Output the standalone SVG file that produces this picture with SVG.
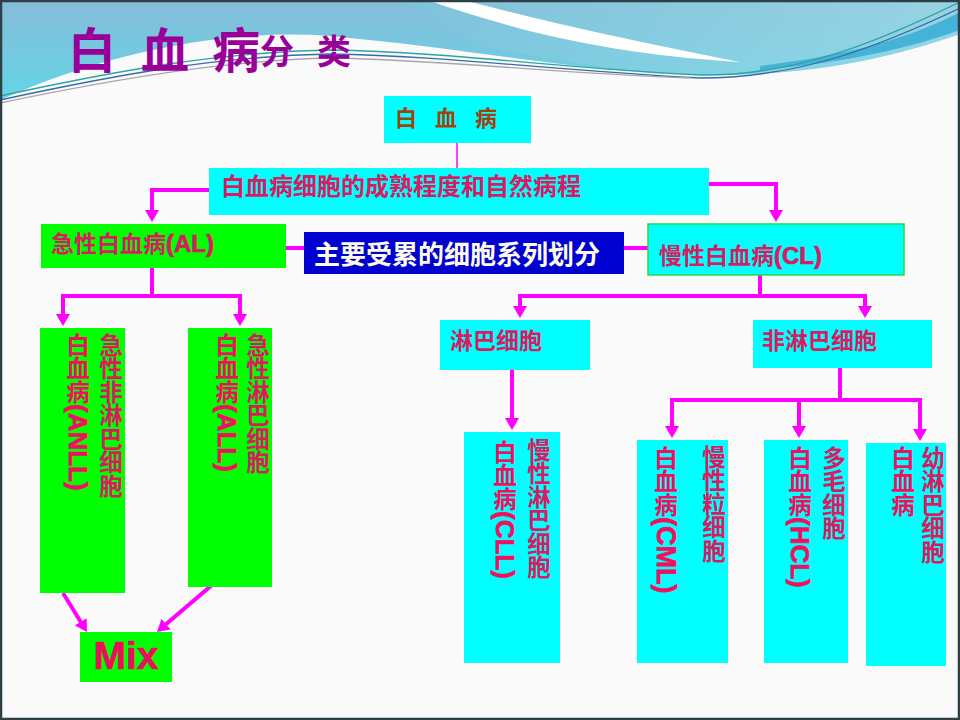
<svg xmlns="http://www.w3.org/2000/svg" width="960" height="720" viewBox="0 0 960 720">
<defs>
<linearGradient id="sky" x1="0" y1="0" x2="0" y2="1">
<stop offset="0" stop-color="#86bcd9"/>
<stop offset="1" stop-color="#63d5e6"/>
</linearGradient>
<linearGradient id="sky2" x1="0" y1="0" x2="1" y2="0">
<stop offset="0" stop-color="#7cc4dc"/>
<stop offset="1" stop-color="#a9e2ea"/>
</linearGradient>
<marker id="ah" markerWidth="14" markerHeight="14" refX="4" refY="7" orient="auto" markerUnits="userSpaceOnUse">
<path d="M0,0 L12,7 L0,14 Z" fill="#ff00ff"/>
</marker>
<style>
.cjk{font-family:"Noto Sans CJK SC","Liberation Sans",sans-serif;font-weight:bold;}
.lat{font-family:"Liberation Sans",Arial,sans-serif;font-weight:bold;stroke-width:0.7;}
.t{fill:#d81c62;font-size:23px;}
.t .lat{stroke:#d81c62;}
.v{writing-mode:vertical-rl;font-size:23.5px;fill:#d81c62;}
.vl{fill:#f0105e;}
.vl .lat{stroke:#f0105e;}
.cy{fill:#00ffff;}
.gr{fill:#00ff00;}
.conn line,.conn polyline{stroke:#ff00ff;stroke-width:4;fill:none;}
</style>
</defs>
<!-- background -->
<rect x="0" y="0" width="960" height="720" fill="#fafafa"/>
<path d="M0,0 H960 V34 C880,62 800,76 700,75 C590,73 480,50 330,36 C220,28 100,55 0,100 Z" fill="url(#sky)"/>
<path d="M400,0 H960 V34 C880,62 800,76 700,75 C620,72 560,62 480,45 Z" fill="url(#sky2)" opacity="0.55"/>
<path d="M463,0 C540,20 610,36 740,62 C610,54 520,32 427,0 Z" fill="#ffffff"/>
<path d="M760,66 C850,55 910,38 960,12 L960,30 C910,48 850,62 760,70 Z" fill="#45b3d8"/>
<g fill="none" stroke-width="1.3">
<path d="M0,96 C120,70 220,52 330,50 C450,52 560,68 700,75 C800,76 880,40 960,2" stroke="#2aa6a0"/>
<path d="M0,100 C120,74 220,56 330,54 C450,56 560,71 700,78 C800,78 880,46 960,8" stroke="#3a6aa8"/>
<path d="M0,103 C120,78 230,60 330,58 C450,60 560,74 690,78" stroke="#a8a8a8"/>
</g>
<rect x="1" y="1" width="958" height="718" fill="none" stroke="#2f3f46" stroke-width="2.5"/>

<!-- title -->
<g id="title" fill="#990099" text-anchor="middle" style="font-family:'Noto Sans CJK SC',sans-serif;font-weight:bold">
<text x="92" y="68" font-size="48">白</text>
<text x="165" y="68" font-size="48">血</text>
<text x="236" y="68" font-size="48">病</text>
<text x="277" y="64" font-size="34">分</text>
<text x="334" y="64" font-size="34">类</text>
</g>

<!-- connectors -->
<g id="connectors" class="conn">
<line x1="457" y1="143" x2="457" y2="168" style="stroke-width:1.5"/>
<polyline points="209,190 152,190 152,214" marker-end="url(#ah)"/>
<polyline points="709,184 776,184 776,214" marker-end="url(#ah)"/>
<line x1="286" y1="248" x2="304" y2="248"/>
<line x1="624" y1="248" x2="648" y2="248"/>
<line x1="152" y1="268" x2="152" y2="296"/>
<line x1="61" y1="296" x2="242" y2="296"/>
<line x1="63" y1="296" x2="63" y2="318" marker-end="url(#ah)"/>
<line x1="240" y1="296" x2="240" y2="318" marker-end="url(#ah)"/>
<line x1="760" y1="275" x2="760" y2="296"/>
<line x1="518" y1="296" x2="867" y2="296"/>
<line x1="520" y1="296" x2="520" y2="310" marker-end="url(#ah)"/>
<line x1="865" y1="296" x2="865" y2="310" marker-end="url(#ah)"/>
<line x1="512" y1="370" x2="512" y2="422" marker-end="url(#ah)"/>
<line x1="840" y1="368" x2="840" y2="400"/>
<line x1="670" y1="400" x2="922" y2="400"/>
<line x1="672" y1="400" x2="672" y2="430" marker-end="url(#ah)"/>
<line x1="799" y1="400" x2="799" y2="430" marker-end="url(#ah)"/>
<line x1="920" y1="400" x2="920" y2="433" marker-end="url(#ah)"/>
<line x1="63" y1="593" x2="82.8" y2="625.2" marker-end="url(#ah)"/>
<line x1="212" y1="585" x2="163" y2="626.8" marker-end="url(#ah)"/>
</g>

<!-- nodes -->
<g id="root">
<rect x="384" y="96" width="147" height="47" class="cy"/>
<g class="cjk" fill="#a0420c" font-size="22" text-anchor="middle">
<text x="406" y="126">白</text><text x="446" y="126">血</text><text x="486" y="126">病</text>
</g>
</g>
<g id="criteria">
<rect x="209" y="168" width="500" height="47" class="cy"/>
<text x="221" y="195" class="cjk t" style="font-size:24px">白血病细胞的成熟程度和自然病程</text>
</g>
<g id="al">
<rect x="41" y="224" width="245" height="44" class="gr"/>
<text x="51" y="252" class="cjk t">急性白血病<tspan class="lat" style="font-size:24px">(AL)</tspan></text>
</g>
<g id="lineage">
<rect x="304" y="232" width="320" height="42" fill="#0000d0"/>
<text x="314" y="264" class="cjk" font-size="26" fill="#fbfbe8">主要受累的细胞系列划分</text>
</g>
<g id="cl">
<rect x="648" y="224" width="256" height="51" class="cy" stroke="#22dd44" stroke-width="1.5"/>
<text x="659" y="264" class="cjk t">慢性白血病<tspan class="lat" style="font-size:24px">(CL)</tspan></text>
</g>
<g id="anll">
<rect x="40" y="328" width="85" height="265" class="gr"/>
<text x="111" y="333" class="cjk v">急性非淋巴细胞</text>
<text x="78" y="333" class="cjk v vl">白血病<tspan class="lat" style="font-size:26px">(ANLL)</tspan></text>
</g>
<g id="all">
<rect x="188" y="328" width="84" height="259" class="gr"/>
<text x="258" y="333" class="cjk v">急性淋巴细胞</text>
<text x="227" y="333" class="cjk v vl">白血病<tspan class="lat" style="font-size:26px">(ALL)</tspan></text>
</g>
<g id="lymph">
<rect x="440" y="320" width="150" height="50" class="cy"/>
<text x="450" y="349" class="cjk t">淋巴细胞</text>
</g>
<g id="nonlymph">
<rect x="753" y="320" width="179" height="48" class="cy"/>
<text x="762" y="349" class="cjk t">非淋巴细胞</text>
</g>
<g id="cll">
<rect x="464" y="432" width="96" height="231" class="cy"/>
<text x="539" y="438" class="cjk v">慢性淋巴细胞</text>
<text x="505" y="440" class="cjk v vl">白血病<tspan class="lat" style="font-size:26px">(CLL)</tspan></text>
</g>
<g id="cml">
<rect x="637" y="440" width="91" height="223" class="cy"/>
<text x="714" y="445" class="cjk v">慢性粒细胞</text>
<text x="666" y="446" class="cjk v vl">白血病<tspan class="lat" style="font-size:27px">(CML)</tspan></text>
</g>
<g id="hcl">
<rect x="764" y="440" width="84" height="223" class="cy"/>
<text x="834" y="446" class="cjk v">多毛细胞</text>
<text x="800" y="446" class="cjk v vl">白血病<tspan class="lat" style="font-size:26px">(HCL)</tspan></text>
</g>
<g id="pll">
<rect x="866" y="443" width="80" height="223" class="cy"/>
<text x="933" y="446" class="cjk v">幼淋巴细胞</text>
<text x="903" y="446" class="cjk v vl">白血病</text>
</g>
<g id="mix">
<rect x="80" y="632" width="92" height="50" class="gr"/>
<text x="126" y="669" class="lat" font-size="39" fill="#e8105a" stroke="#e8105a" stroke-width="1" text-anchor="middle">Mix</text>
</g>
</svg>
